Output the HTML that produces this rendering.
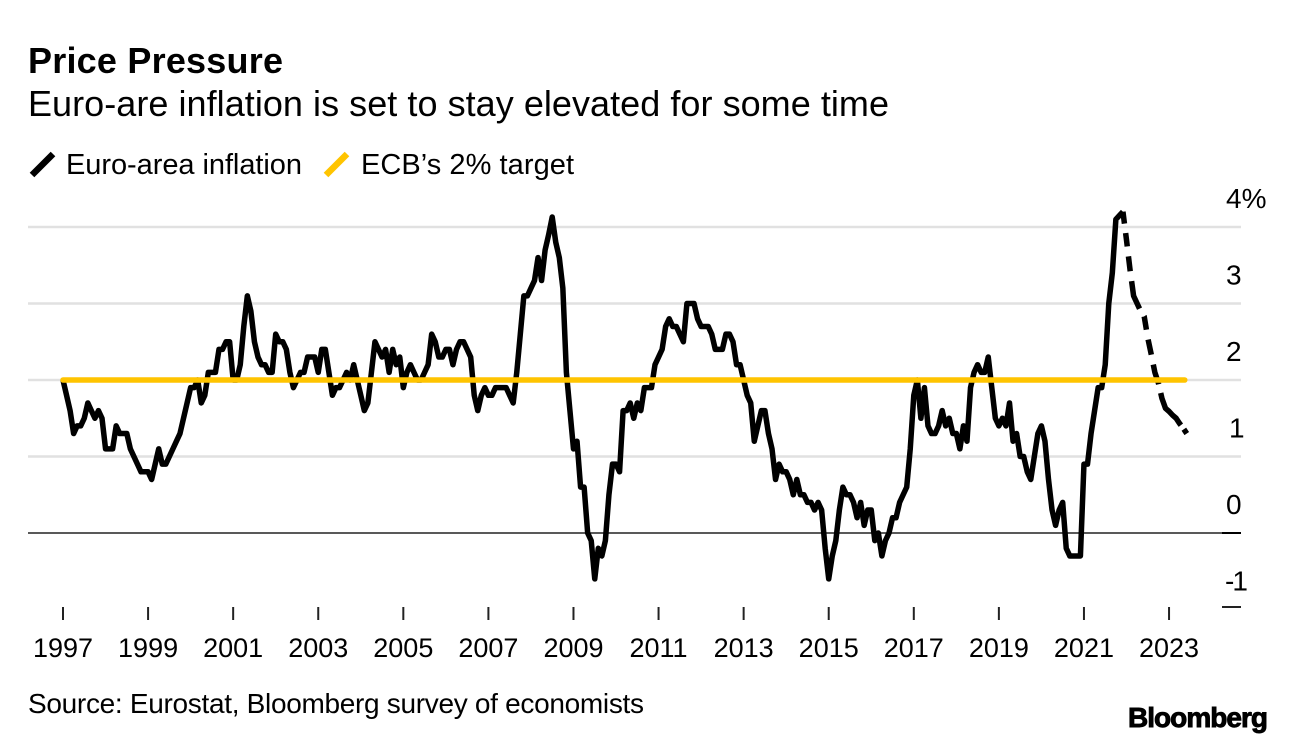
<!DOCTYPE html>
<html lang="en">
<head>
<meta charset="utf-8">
<title>Price Pressure</title>
<style>
html,body{margin:0;padding:0;background:#fff;width:1296px;height:744px;overflow:hidden}
svg{display:block}
text{font-family:"Liberation Sans",sans-serif;fill:#000}
</style>
</head>
<body>
<svg id="chart" xmlns="http://www.w3.org/2000/svg" width="1296" height="744" viewBox="0 0 1296 744">
  <rect width="1296" height="744" fill="#fff"/>
  <text x="28" y="73" font-size="36" font-weight="700" textLength="255" lengthAdjust="spacing">Price Pressure</text>
  <text x="28" y="116" font-size="36" textLength="861" lengthAdjust="spacing">Euro-are inflation is set to stay elevated for some time</text>
  <g>
    <line x1="32" y1="175" x2="53" y2="154" stroke="#000" stroke-width="6.5"/>
    <text x="66" y="174" font-size="29" textLength="236" lengthAdjust="spacing">Euro-area inflation</text>
    <line x1="326" y1="175" x2="347" y2="154" stroke="#ffc400" stroke-width="6.5"/>
    <text x="361" y="174" font-size="29" textLength="213" lengthAdjust="spacing">ECB’s 2% target</text>
  </g>
  <g id="grid"></g>
  <g id="xaxis"></g>
  <g id="yaxis"></g>
  <g id="series"></g>
  <text x="28" y="713" font-size="28" textLength="616" lengthAdjust="spacing">Source: Eurostat, Bloomberg survey of economists</text>
  <text x="1128" y="727" font-size="28" font-weight="700" stroke="#000" stroke-width="0.9" textLength="140" lengthAdjust="spacing">Bloomberg</text>
</svg>
<script>
// Monthly euro-area inflation, % y/y, from January 1997
const inflationActual = [
  2.0,1.8,1.6,1.3,1.4,1.4,1.5,1.7,1.6,1.5,1.6,1.5,
  1.1,1.1,1.1,1.4,1.3,1.3,1.3,1.1,1.0,0.9,0.8,0.8,
  0.8,0.7,0.9,1.1,0.9,0.9,1.0,1.1,1.2,1.3,1.5,1.7,
  1.9,1.9,2.0,1.7,1.8,2.1,2.1,2.1,2.4,2.4,2.5,2.5,
  2.0,2.0,2.2,2.7,3.1,2.9,2.5,2.3,2.2,2.2,2.1,2.1,
  2.6,2.5,2.5,2.4,2.1,1.9,2.0,2.1,2.1,2.3,2.3,2.3,
  2.1,2.4,2.4,2.1,1.8,1.9,1.9,2.0,2.1,2.0,2.2,2.0,
  1.8,1.6,1.7,2.1,2.5,2.4,2.3,2.4,2.1,2.4,2.2,2.3,
  1.9,2.1,2.2,2.1,2.0,2.0,2.1,2.2,2.6,2.5,2.3,2.3,
  2.4,2.4,2.2,2.4,2.5,2.5,2.4,2.3,1.8,1.6,1.8,1.9,
  1.8,1.8,1.9,1.9,1.9,1.9,1.8,1.7,2.1,2.6,3.1,3.1,
  3.2,3.3,3.6,3.3,3.7,3.9,4.13,3.8,3.6,3.2,2.1,1.6,
  1.1,1.2,0.6,0.6,0.0,-0.1,-0.6,-0.2,-0.3,-0.1,0.5,0.9,
  0.9,0.8,1.6,1.6,1.7,1.5,1.7,1.6,1.9,1.9,1.9,2.2,
  2.3,2.4,2.7,2.8,2.7,2.7,2.6,2.5,3.0,3.0,3.0,2.8,
  2.7,2.7,2.7,2.6,2.4,2.4,2.4,2.6,2.6,2.5,2.2,2.2,
  2.0,1.8,1.7,1.2,1.4,1.6,1.6,1.3,1.1,0.7,0.9,0.8,
  0.8,0.7,0.5,0.7,0.5,0.5,0.4,0.4,0.3,0.4,0.3,-0.2,
  -0.6,-0.3,-0.1,0.3,0.6,0.5,0.5,0.4,0.2,0.4,0.1,0.3,
  0.3,-0.1,0.0,-0.3,-0.1,0.0,0.2,0.2,0.4,0.5,0.6,1.1,
  1.8,2.0,1.5,1.9,1.4,1.3,1.3,1.4,1.6,1.4,1.5,1.3,
  1.3,1.1,1.4,1.2,1.9,2.1,2.2,2.1,2.1,2.3,1.9,1.5,
  1.4,1.5,1.4,1.7,1.2,1.3,1.0,1.0,0.8,0.7,1.0,1.3,
  1.4,1.2,0.7,0.3,0.1,0.3,0.4,-0.2,-0.3,-0.3,-0.3,-0.3,
  0.9,0.9,1.3,1.6,1.9,1.9,2.2,3.0,3.4,4.1,4.15,4.2
];
// Survey forecast, continuing from the last actual month
const inflationForecast = [4.2,3.83,3.44,3.1,3.0,2.9,2.83,2.55,2.33,2.1,1.96,1.76,1.63,1.59,1.54,1.5,1.43,1.37,1.3];
const targetValue = [2];
const yTickValues = [4,3,2,1,0,-1];
const yTickLabels = ["4%","3","2","1","0","-1"];
const xTickYears = [1997,1999,2001,2003,2005,2007,2009,2011,2013,2015,2017,2019,2021,2023];

const NS = "http://www.w3.org/2000/svg";
const firstYear = 1997;
const monthWidth = 3.545;
const xScale = m => 63 + monthWidth * m;
const yScale = v => 533 - 76.5 * v;
const plotLeft = 28, plotRight = 1241;

function make(tag, attrs, parent) {
  const el = document.createElementNS(NS, tag);
  for (const k in attrs) el.setAttribute(k, attrs[k]);
  parent.appendChild(el);
  return el;
}
function linePath(values, startMonth) {
  return values.map((v, i) => (i ? "L" : "M") + xScale(startMonth + i).toFixed(2) + " " + yScale(v).toFixed(2)).join("");
}

const gridG = document.getElementById("grid");
const xG = document.getElementById("xaxis");
const yG = document.getElementById("yaxis");
const seriesG = document.getElementById("series");

yTickValues.forEach((v, i) => {
  if (v > 0) {
    const g = make("line", {x1: plotLeft, x2: plotRight, y1: yScale(v), y2: yScale(v), stroke: "#e1e1e1", "stroke-width": 2.5}, gridG);
    
    
  }
  const digits = yTickLabels[i].replace("%", "");
  let labelX = 1226;
  if (digits === "1") labelX = 1229;
  if (digits === "-1") labelX = 1225;
  const t = make("text", {x: labelX, y: yScale(v) - 19, "font-size": 28}, yG);
  
  
  if (digits === "-1") t.setAttribute("letter-spacing", "-2");
  t.textContent = yTickLabels[i];
});

const zero = make("line", {x1: plotLeft, x2: plotRight, y1: yScale(0), y2: yScale(0), stroke: "#222", "stroke-width": 1.5}, gridG);


const zeroTick = make("line", {x1: 1222, x2: plotRight, y1: yScale(0), y2: yScale(0), stroke: "#000", "stroke-width": 2}, yG);


const bottomTick = make("line", {x1: 1222, x2: plotRight, y1: 607, y2: 607, stroke: "#222", "stroke-width": 2}, yG);



xTickYears.forEach(year => {
  const x = xScale((year - firstYear) * 12);
  const tick = make("line", {x1: x, x2: x, y1: 607, y2: 620, stroke: "#222", "stroke-width": 2}, xG);
  
  
  const label = make("text", {x: x, y: 657, "font-size": 27, "text-anchor": "middle"}, xG);
  
  
  label.textContent = String(year);
});

const lastMonth = inflationActual.length - 1 + inflationForecast.length - 1;

const actualLine = make("path", {d: linePath(inflationActual, 0), fill: "none", stroke: "#000", "stroke-width": 5.5, "stroke-linejoin": "round", "stroke-linecap": "butt"}, seriesG);



const forecastLine = make("path", {d: linePath(inflationForecast, inflationActual.length - 1), fill: "none", stroke: "#000", "stroke-width": 5.5, "stroke-linejoin": "round", "stroke-dasharray": "12 9.5 13.5 10 15 10 29 9 13.5 10 15.5 10 20.5 9 39 5 8"}, seriesG);



const targetLine = make("line", {x1: xScale(0), x2: xScale(lastMonth) - 2, y1: yScale(targetValue[0]), y2: yScale(targetValue[0]), stroke: "#ffc400", "stroke-width": 5.5, "stroke-linecap": "round"}, seriesG);


</script>
</body>
</html>
